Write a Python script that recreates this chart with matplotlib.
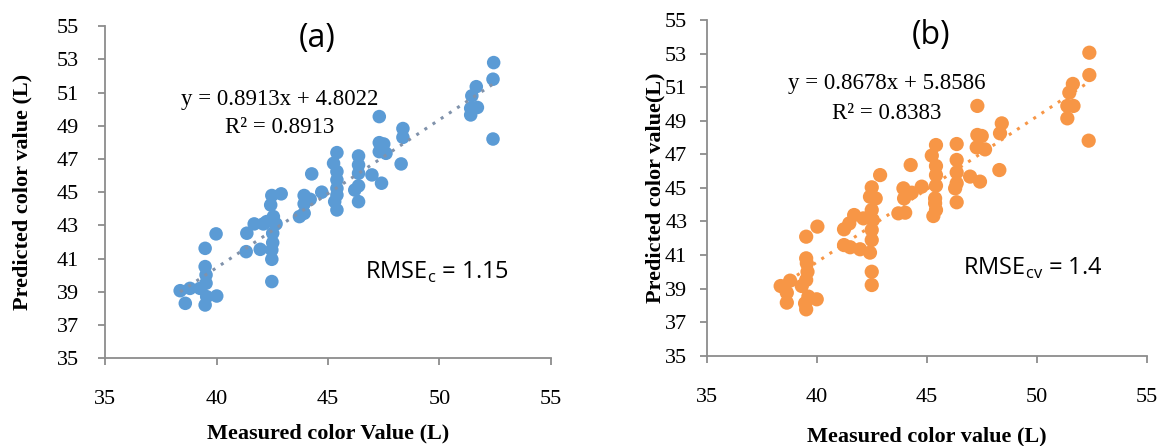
import matplotlib
matplotlib.use("Agg")
import matplotlib.pyplot as plt
import numpy as np

plt.rcParams["mathtext.fontset"] = "custom"
plt.rcParams["mathtext.rm"] = "Open Sans"

# Panel (a): calibration
xa = [52.43, 52.4, 52.4, 51.65, 51.45, 51.7, 51.4, 51.4, 47.3, 48.36, 48.36, 47.3, 47.5, 47.3, 47.6,
      48.28, 47.4, 46.97, 46.37, 46.37, 46.37, 46.37, 46.2, 46.37, 45.4, 45.25, 45.4, 45.4, 45.4, 45.4,
      45.3, 45.4, 44.27, 44.72, 43.93, 44.2, 43.93, 43.72, 43.93, 42.48, 42.9, 42.43, 42.55, 42.25, 42.67,
      42.1, 41.69, 41.36, 42.52, 42.52, 41.96, 41.33, 42.48, 42.48, 42.48, 39.98, 39.49, 39.49, 39.53,
      39.53, 39.26, 38.81, 38.37, 38.6, 39.49, 39.56, 40.01]
ya = [52.8, 51.8, 48.2, 51.35, 50.8, 50.1, 50.05, 49.65, 49.55, 48.83, 48.3, 47.98, 47.9, 47.44, 47.34,
      46.7, 45.54, 46.04, 47.18, 46.64, 46.14, 45.38, 45.13, 44.43, 47.38, 46.74, 46.24, 45.74, 45.23, 44.83,
      44.43, 43.93, 46.1, 45.0, 44.8, 44.57, 44.3, 43.53, 43.73, 44.8, 44.9, 44.23, 43.53, 43.23, 43.09,
      43.09, 43.09, 42.53, 42.53, 41.96, 41.56, 41.42, 41.52, 40.96, 39.62, 42.49, 41.62, 40.52, 40.02,
      39.52, 39.21, 39.21, 39.07, 38.31, 38.21, 38.71, 38.75]

# Panel (b): cross-validation
xb = [52.39, 52.39, 52.36, 51.64, 51.48, 51.67, 51.39, 51.39, 47.3, 48.41, 48.33, 47.3, 47.5, 47.27, 47.65,
      48.3, 47.42, 46.97, 46.36, 46.36, 46.36, 46.36, 46.29, 46.36, 45.42, 45.23, 45.42, 45.42, 45.42, 45.38,
      45.38, 45.42, 45.3, 44.27, 44.77, 43.94, 44.32, 43.97, 43.71, 44.02, 42.88, 42.5, 42.42, 42.68, 42.5,
      42.55, 42.12, 41.7, 41.48, 41.24, 42.5, 42.5, 42.42, 41.97, 41.52, 41.24, 42.5, 42.5, 40.03, 39.52,
      39.52, 39.55, 39.58, 39.52, 38.79, 38.36, 38.64, 38.64, 39.32, 39.62, 40.0, 39.52, 39.47]
yb = [53.05, 51.72, 47.81, 51.19, 50.67, 49.88, 49.88, 49.14, 49.88, 48.84, 48.25, 48.15, 48.09, 47.41, 47.29,
      46.06, 45.37, 45.67, 47.61, 46.66, 45.92, 45.27, 44.97, 44.14, 47.55, 46.92, 46.3, 45.76, 45.13, 44.37,
      44.08, 43.68, 43.32, 46.36, 45.07, 44.97, 44.71, 44.37, 43.48, 43.52, 45.76, 45.03, 44.47, 44.37, 43.68,
      43.08, 43.18, 43.38, 42.88, 42.53, 42.49, 41.89, 41.14, 41.34, 41.46, 41.59, 40.0, 39.21, 42.69, 42.09,
      40.8, 40.5, 40.0, 39.51, 39.47, 39.15, 38.75, 38.16, 39.15, 38.52, 38.36, 37.76, 38.12]

fit_a = (0.8913, 4.8022)
fit_b = (0.8678, 5.8586)
xticks = [35, 40, 45, 50, 55]
yticks = [35, 37, 39, 41, 43, 45, 47, 49, 51, 53, 55]

SERIF = "Liberation Serif"
SANS = "Open Sans"

fig = plt.figure(figsize=(11.58, 4.46), dpi=100)
axA = fig.add_axes([0.0907, 0.1966, 0.3851, 0.745])
axB = fig.add_axes([0.6103, 0.2025, 0.380, 0.7527])

def style(ax, ypad):
    ax.set_xlim(35, 55)
    ax.set_ylim(35, 55)
    ax.set_xticks(xticks)
    ax.set_yticks(yticks)
    for s in ["top", "right"]:
        ax.spines[s].set_visible(False)
    for s in ["left", "bottom"]:
        ax.spines[s].set_color("#8c8c8c")
        ax.spines[s].set_linewidth(1.3)
    ax.tick_params(axis="both", color="#8c8c8c", width=1.3, length=5, direction="out")
    ax.tick_params(axis="x", pad=18)
    ax.tick_params(axis="y", pad=ypad)
    for lab in ax.get_xticklabels() + ax.get_yticklabels():
        lab.set_fontfamily(SERIF)
        lab.set_fontsize(16)
    ax.set_facecolor("white")

# Panel (a)
style(axA, 14)
axA.scatter(xa, ya, s=95, color="#5B9BD5", edgecolors="none", zorder=2)
lx = np.array([min(xa), max(xa)])
axA.plot(lx, fit_a[0] * lx + fit_a[1], linestyle=(0, (1, 2.2)), color="#8092ab", lw=2.2, zorder=3)
axA.text(42.85, 50.6, "y = 0.8913x + 4.8022", family=SERIF, fontsize=16.5, ha="center", va="center")
axA.text(42.85, 48.9, "R² = 0.8913", family=SERIF, fontsize=16.5, ha="center", va="center")
axA.text(46.66, 40.18, r"RMSE$_\mathregular{c}$ = 1.15", family=SANS, fontsize=17, ha="left", va="center")
axA.text(0.475, 0.964, "(a)", family=SANS, fontsize=23, ha="center", va="center", transform=axA.transAxes)
axA.set_xlabel("Measured color Value (L)", family=SERIF, fontsize=16, fontweight="bold", labelpad=10)
axA.set_ylabel("Predicted color value (L)", family=SERIF, fontsize=16, fontweight="bold", labelpad=17)

# Panel (b)
style(axB, 9)
axB.scatter(xb, yb, s=105, color="#F79646", edgecolors="none", zorder=2)
lx = np.array([min(xb), max(xb)])
axB.plot(lx, fit_b[0] * lx + fit_b[1], linestyle=(0, (1, 2.2)), color="#F79646", lw=2.2, zorder=3)
axB.text(43.2, 51.2, "y = 0.8678x + 5.8586", family=SERIF, fontsize=16.5, ha="center", va="center")
axB.text(43.2, 49.45, "R² = 0.8383", family=SERIF, fontsize=16.5, ha="center", va="center")
axB.text(46.65, 40.22, r"RMSE$_\mathregular{cv}$ = 1.4", family=SANS, fontsize=17, ha="left", va="center")
axB.text(0.51, 0.955, "(b)", family=SANS, fontsize=23, ha="center", va="center", transform=axB.transAxes)
axB.set_xlabel("Measured color value (L)", family=SERIF, fontsize=16, fontweight="bold", labelpad=14)
axB.set_ylabel("Predicted color value(L)", family=SERIF, fontsize=16, fontweight="bold", labelpad=0)

fig.savefig("out.png", dpi=100, facecolor="white")
